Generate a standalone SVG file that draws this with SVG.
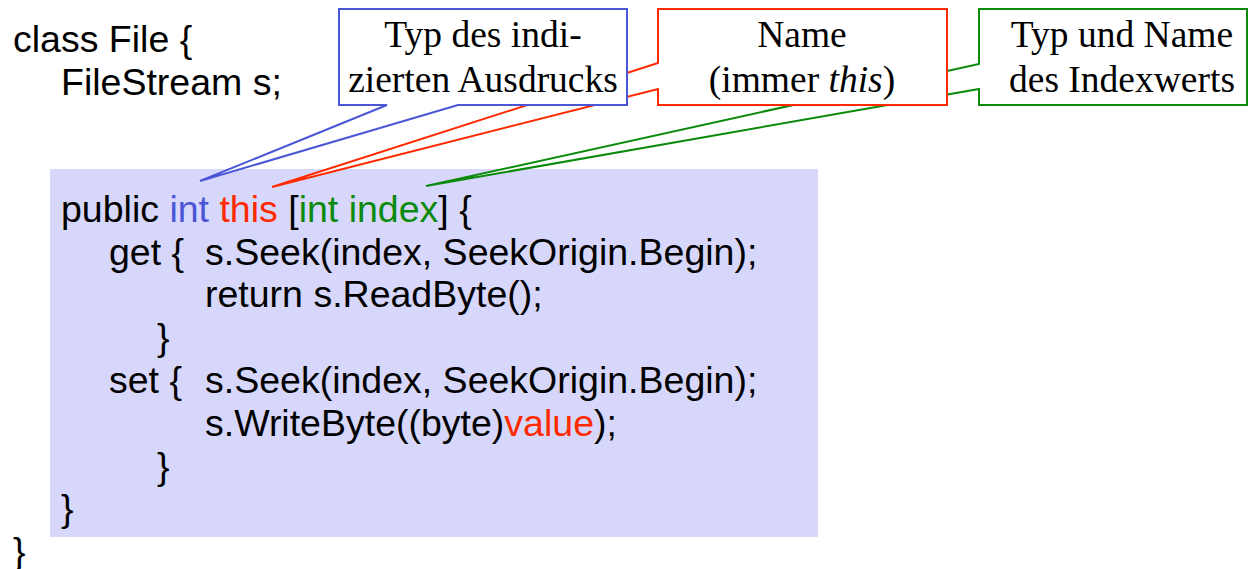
<svg xmlns="http://www.w3.org/2000/svg" width="1249" height="569" viewBox="0 0 1249 569">
  <style>
    .code { font-family: "Liberation Sans", Arial, sans-serif; font-size: 37.5px; fill: #000; }
    .note { font-family: "Liberation Serif", "Times New Roman", serif; font-size: 37.5px; fill: #000; text-anchor: middle; }
    .callout { fill: #fff; stroke-width: 2; stroke-linejoin: miter; }
    .kw-type { fill: #4a56d6; }
    .kw-name { fill: #ff2a00; }
    .kw-param { fill: #0b8a0b; }
  </style>

  <!-- code background -->
  <rect id="code-box" x="50" y="169" width="768" height="368" fill="#d6d7fb"/>

  <!-- source text -->
  <g id="code">
    <text class="code" x="13" y="52">class File {</text>
    <text class="code" x="61" y="95">FileStream s;</text>
    <text class="code" x="61" y="222">public <tspan class="kw-type">int</tspan> <tspan class="kw-name">this</tspan> [<tspan class="kw-param">int index</tspan>] {</text>
    <text class="code" x="109" y="265">get {</text>
    <text class="code" x="205" y="265">s.Seek(index, SeekOrigin.Begin);</text>
    <text class="code" x="205" y="307">return s.ReadByte();</text>
    <text class="code" x="157" y="350">}</text>
    <text class="code" x="109" y="393">set {</text>
    <text class="code" x="205" y="393">s.Seek(index, SeekOrigin.Begin);</text>
    <text class="code" x="205" y="436">s.WriteByte((byte)<tspan class="kw-name">value</tspan>);</text>
    <text class="code" x="157" y="479">}</text>
    <text class="code" x="61" y="521">}</text>
    <text class="code" x="13" y="564">}</text>
  </g>

  <!-- callouts (wedge shapes pointing into the code) -->
  <g id="connectors">
    <g id="callout-param">
      <path class="callout" stroke="#0b8a0b" d="M979,9 H1247 V105 H979 V89 L426,186 L979,64 Z"/>
      <text class="note" x="1122" y="47">Typ und Name</text>
      <text class="note" x="1122" y="92">des Indexwerts</text>
    </g>
    <g id="callout-name">
      <path class="callout" stroke="#ff2a00" d="M658,9 H947 V105 H658 V89 L272,187 L658,63 Z"/>
      <text class="note" x="802" y="47">Name</text>
      <text class="note" x="802" y="92">(immer <tspan font-style="italic">this</tspan>)</text>
    </g>
    <g id="callout-type">
      <path class="callout" stroke="#4a56d6" d="M339,9 H627 V105 H458 L200,181 L387,105 H339 Z"/>
      <text class="note" x="483" y="47">Typ des indi-</text>
      <text class="note" x="483" y="92">zierten Ausdrucks</text>
    </g>
  </g>
</svg>
